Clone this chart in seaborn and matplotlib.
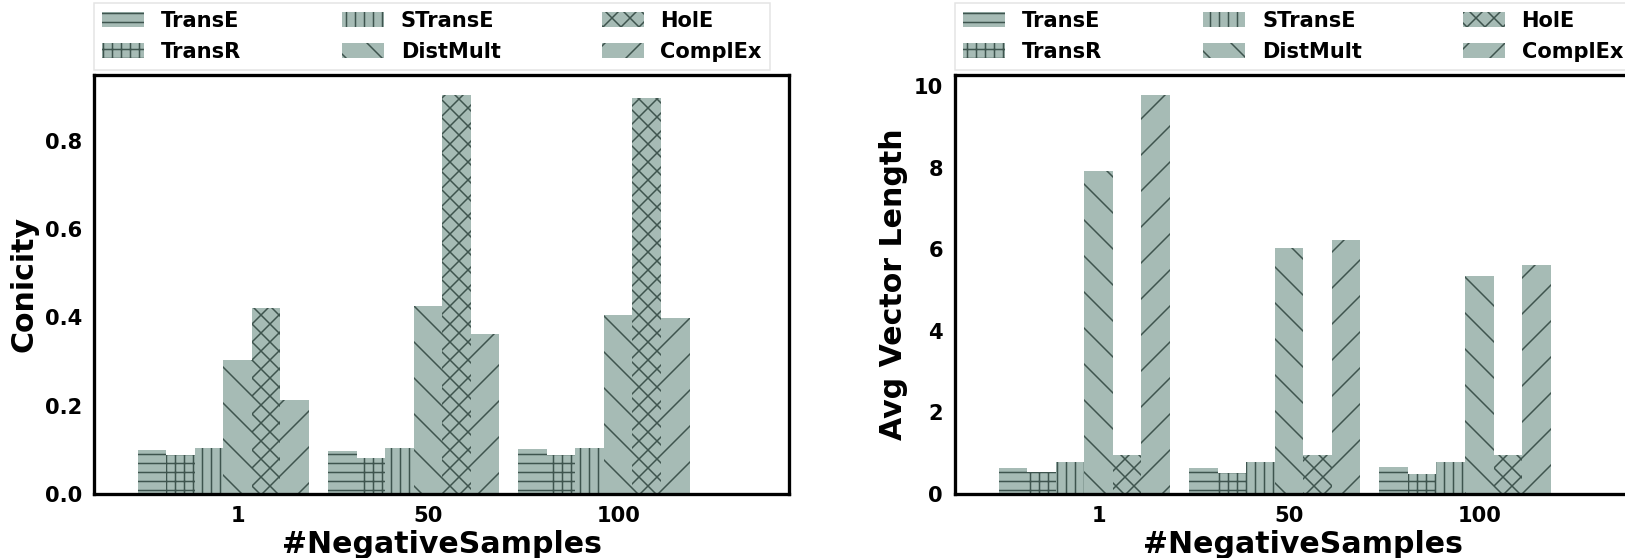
import numpy as np
import pandas as pd
import matplotlib
matplotlib.use("Agg")
import matplotlib.pyplot as plt
import seaborn as sns

NEG_SAMPLES = ["1", "50", "100"]
MODELS = ["TransE", "TransR", "STransE", "DistMult", "HolE", "ComplEx"]
HATCHES = ["--", "++", "||", "\\", "xx", "/"]

# conicity per model, for 1 / 50 / 100 negative samples
conicity_transe = [0.100, 0.098, 0.102]
conicity_transr = [0.088, 0.081, 0.088]
conicity_stranse = [0.104, 0.104, 0.104]
conicity_distmult = [0.303, 0.426, 0.405]
conicity_hole = [0.421, 0.904, 0.897]
conicity_complex = [0.213, 0.362, 0.399]

# average vector length per model
avglen_transe = [0.64, 0.64, 0.65]
avglen_transr = [0.55, 0.52, 0.48]
avglen_stranse = [0.79, 0.79, 0.79]
avglen_distmult = [7.91, 6.04, 5.33]
avglen_hole = [0.96, 0.96, 0.96]
avglen_complex = [9.78, 6.22, 5.60]

FACE = "#a6bbb5"
HATCH_COL = "#3e544e"
BAR_W = 0.15


def to_long(series):
    rows = []
    for model, vals in zip(MODELS, series):
        for neg, v in zip(NEG_SAMPLES, vals):
            rows.append({"neg": neg, "model": model, "value": v})
    return pd.DataFrame(rows)


def plot_panel(ax, df, ylabel):
    sns.barplot(data=df, x="neg", y="value", hue="model", order=NEG_SAMPLES,
                hue_order=MODELS, palette=[FACE] * len(MODELS), saturation=1,
                width=BAR_W * len(MODELS), edgecolor=HATCH_COL, linewidth=0,
                errorbar=None, legend=False, ax=ax)
    for cont, h in zip(ax.containers, HATCHES):
        for bar in cont:
            bar.set_hatch(h)
    ax.set_xticks(np.arange(len(NEG_SAMPLES)) + BAR_W / 2)
    ax.set_xticklabels(NEG_SAMPLES)
    ax.set_xlim(-0.68, 2.975)
    ax.set_xlabel("#NegativeSamples", fontsize=20, fontweight="bold", labelpad=3)
    ax.set_ylabel(ylabel, fontsize=20, fontweight="bold", labelpad=4)
    ax.tick_params(labelsize=14, length=3, width=1.5, pad=5, colors="black")
    for s in ax.spines.values():
        s.set_linewidth(2.2)
        s.set_color("black")
    ax.legend(ax.containers, MODELS, ncol=3, loc="lower left",
              bbox_to_anchor=(0, 1.012), borderaxespad=0, columnspacing=4.8,
              fontsize=14, edgecolor="#dddddd", fancybox=False)


def main():
    sns.set_style("white")
    plt.rcParams["font.family"] = ["DejaVu Sans"]
    plt.rcParams["font.weight"] = "bold"
    plt.rcParams["text.color"] = "black"
    plt.rcParams["axes.labelcolor"] = "black"
    plt.rcParams["hatch.color"] = HATCH_COL
    plt.rcParams["hatch.linewidth"] = 1.0

    conicity = to_long([conicity_transe, conicity_transr, conicity_stranse,
                        conicity_distmult, conicity_hole, conicity_complex])
    avglen = to_long([avglen_transe, avglen_transr, avglen_stranse,
                      avglen_distmult, avglen_hole, avglen_complex])

    fig = plt.figure(figsize=(1625 / 108, 558 / 108), dpi=108)
    ax1 = fig.add_axes([0.0578, 0.1147, 0.428, 0.751])
    ax2 = fig.add_axes([0.5877, 0.1147, 0.428, 0.751])

    plot_panel(ax1, conicity, "Conicity")
    plot_panel(ax2, avglen, "Avg Vector Length")

    fig.savefig("out.png", dpi=108)


if __name__ == "__main__":
    main()
